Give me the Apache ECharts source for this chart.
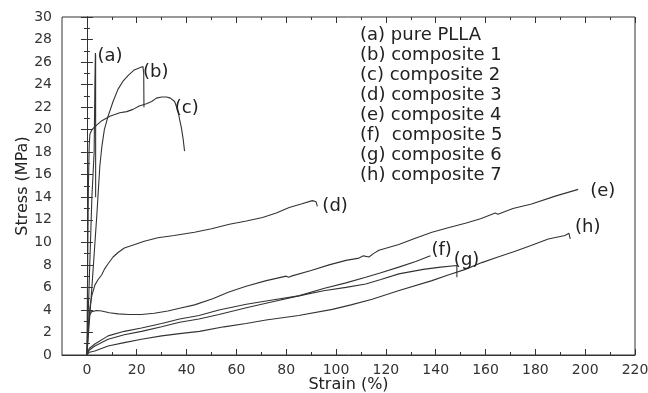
<!DOCTYPE html>
<html>
<head>
<meta charset="utf-8">
<script src="https://cdn.jsdelivr.net/npm/echarts@6/dist/echarts.min.js"></script>
<style>
  html, body { margin: 0; padding: 0; background: #fff; }
  #chart { width: 648px; height: 393px; }
</style>
</head>
<body>
<div id="chart"></div>
<script>
// stress-strain curves, [strain %, stress MPa]
const pureLLA = [[0,0],[1,7],[2,14],[2.9,18],[3.2,24],[3.4,26.8],[3.5,26.6],[3.5,14]]
const comp1 = [[0,0],[2,6],[4,12.5],[5.2,16.8],[6,18.5],[7,20],[8.5,21.2],[10.5,22.5],[12.5,23.6],
  [14.5,24.3],[16.5,24.8],[19,25.3],[21.2,25.5],[22.5,25.6],[22.8,25],[22.9,22]]
const comp2 = [[0,0],[0.3,8],[0.6,15],[0.9,18.5],[1.2,19.6],[2,20],[3.9,20.4],[6,20.8],[9.2,21.2],
  [13.2,21.5],[16,21.6],[18.5,21.8],[21,22.1],[23.9,22.3],[26,22.5],[27.9,22.8],[30,22.9],[31.9,22.9],
  [33.5,22.8],[35.2,22.5],[36.5,21.7],[37.3,20.8],[37.9,20.2],[38.6,19.2],[39.2,18.1]]
const comp3 = [[0,0],[0.6,2.5],[1.2,4.2],[2,5.3],[3.2,6.2],[4.5,6.7],[5.9,7.1],[7,7.6],[8.5,8.1],
  [10.5,8.7],[12.5,9.1],[15,9.5],[19.2,9.8],[23,10.1],[28.5,10.4],[35,10.6],[43.2,10.9],[50,11.2],
  [57.2,11.6],[64,11.9],[70.5,12.2],[76,12.6],[81.2,13.1],[86,13.4],[90.5,13.7],[92,13.6],[92.5,13.2]]
const comp4 = [[0,0],[0.5,2.5],[1,3.5],[1.9,3.85],[4,3.95],[5.9,3.9],[9,3.75],[12.5,3.65],[17,3.6],
  [21.9,3.6],[27,3.7],[32.5,3.9],[37.2,4.15],[43.2,4.45],[50.5,5.0],[57,5.6],[63.9,6.1],[72,6.6],
  [80,7.0],[81,6.9],[82,7.0],[90,7.5],[97.2,8.0],[104,8.4],[109.2,8.6],[111,8.8],[113.2,8.7],
  [115,9.0],[117.2,9.3],[125.2,9.8],[131,10.3],[138.5,10.9],[145,11.3],[151.9,11.7],[158,12.1],
  [163.9,12.6],[165,12.5],[171,13.0],[178.5,13.4],[188,14.1],[197.2,14.7]]
const comp5 = [[0,0],[0.5,0.25],[1,0.45],[3.2,0.8],[8.5,1.4],[15,1.8],[21.9,2.1],[30,2.5],[37.2,2.9],
  [45,3.2],[53,3.6],[64,4.2],[75,4.75],[85,5.25],[95,5.9],[104,6.4],[111.9,6.9],[118,7.3],
  [125.2,7.8],[132,8.3],[137.9,8.8]]
const comp6 = [[0,0],[0.5,0.35],[1,0.6],[3.2,0.98],[8.5,1.7],[15,2.1],[21.9,2.4],[30,2.8],[37.2,3.2],
  [45,3.5],[53,4.0],[64,4.5],[75,4.9],[85,5.25],[95,5.7],[104,6.0],[111.9,6.3],[118,6.7],
  [125.2,7.2],[135,7.6],[142,7.8],[148.5,7.95],[148.5,6.9]]
const comp7 = [[0,0],[0.5,0.15],[1,0.25],[3.2,0.35],[8.5,0.8],[15,1.1],[21.9,1.4],[30,1.7],[37.2,1.9],
  [45.2,2.1],[55,2.5],[63.9,2.8],[71.9,3.1],[85,3.5],[98.5,4.05],[106,4.45],[114.5,4.95],[125,5.7],
  [138.5,6.6],[145,7.1],[151.9,7.6],[158.5,8.2],[165,8.7],[171.9,9.2],[178,9.7],[185.2,10.3],
  [191.9,10.6],[193.5,10.8],[194,10.3]]

const names = ['(a) pure PLLA', '(b) composite 1', '(c) composite 2', '(d) composite 3',
  '(e) composite 4', '(f)  composite 5', '(g) composite 6', '(h) composite 7']
const tags = ['(a)', '(b)', '(c)', '(d)', '(e)', '(f)', '(g)', '(h)']
const curves = [pureLLA, comp1, comp2, comp3, comp4, comp5, comp6, comp7]

const xMajor = [0, 20, 40, 60, 80, 100, 120, 140, 160, 180, 200, 220]
const xMinor = [10, 30, 50, 70, 90, 110, 130, 150, 170, 190, 210]

// which point carries the tag, and how far to push it (px)
const tagPoint = [5, 13, 20, 26, 40, 20, 21, 27]
const tagOffset = [[-3, 3], [-5, 6], [-8, -2], [0, 0], [7, 2], [-4, -6], [-8, -5], [1, -6]]

const FONT = 'DejaVu Sans'
const INK = '#222'

const series = curves.map((pts, i) => ({
    name: names[i],
    type: 'line',
    showSymbol: true,
    symbol: 'circle',
    symbolSize: 0,
    silent: true,
    animation: false,
    lineStyle: { color: '#333', width: 1.1 },
    itemStyle: { color: '#333' },
    data: pts.map((p, k) => k === tagPoint[i] ? {
        value: p,
        label: {
            show: true,
            formatter: tags[i],
            position: 'right',
            distance: 5,
            offset: tagOffset[i],
            fontFamily: FONT,
            fontSize: 18,
            color: INK
        }
    } : p)
}))

const xBase = { type: 'value', min: -10, max: 220, splitLine: { show: false } }
const yBase = { type: 'value', min: 0, max: 30, interval: 2, splitLine: { show: false } }
const lineStyle = { color: '#333', width: 1 }

const option = {
    animation: false,
    grid: {
        left: 62, right: 13, top: 17, bottom: 38,
        outerBoundsMode: 'none',
        show: true, borderColor: '#333', borderWidth: 1
    },
    legend: {
        data: names,
        orient: 'vertical',
        left: 355, top: 26,
        padding: 0,
        icon: 'none',
        itemWidth: 0,
        itemHeight: 18,
        itemGap: 2,
        selectedMode: false,
        textStyle: { fontFamily: FONT, fontSize: 18, color: INK, lineHeight: 18 }
    },
    xAxis: [
        Object.assign({}, xBase, {
            position: 'bottom',
            name: 'Strain (%)', nameLocation: 'middle', nameGap: 22, nameMoveOverlap: false,
            nameTextStyle: { fontFamily: FONT, fontSize: 16, color: INK },
            axisLine: { show: true, lineStyle },
            axisTick: { inside: true, length: 6, customValues: xMajor, lineStyle },
            axisLabel: { customValues: xMajor, margin: 8, fontFamily: FONT, fontSize: 14, color: '#333' }
        }),
        Object.assign({}, xBase, {
            position: 'bottom',
            axisLine: { show: false },
            axisTick: { inside: true, length: 3, customValues: xMinor, lineStyle },
            axisLabel: { show: false }
        }),
        Object.assign({}, xBase, {
            position: 'top',
            axisLine: { show: false },
            axisTick: { inside: true, length: 6, customValues: xMajor, lineStyle },
            axisLabel: { show: false }
        }),
        Object.assign({}, xBase, {
            position: 'top',
            axisLine: { show: false },
            axisTick: { inside: true, length: 3, customValues: xMinor, lineStyle },
            axisLabel: { show: false }
        })
    ],
    yAxis: [
        Object.assign({}, yBase, {
            position: 'left',
            name: 'Stress (MPa)', nameLocation: 'middle', nameGap: 31, nameMoveOverlap: false,
            nameTextStyle: { fontFamily: FONT, fontSize: 16, color: INK },
            axisLine: { show: true, lineStyle },
            axisTick: { inside: true, length: 6, lineStyle },
            minorTick: { show: true, splitNumber: 2, length: 3, lineStyle },
            axisLabel: { margin: 10, fontFamily: FONT, fontSize: 14, color: '#333' }
        }),
        Object.assign({}, yBase, {
            position: 'right',
            axisLine: { show: true, lineStyle },
            axisTick: { inside: true, length: 6, lineStyle },
            minorTick: { show: true, splitNumber: 2, length: 3, lineStyle },
            axisLabel: { show: false }
        })
    ],
    series: series
}

const chart = echarts.init(document.getElementById('chart'))
chart.setOption(option)
</script>
</body>
</html>
